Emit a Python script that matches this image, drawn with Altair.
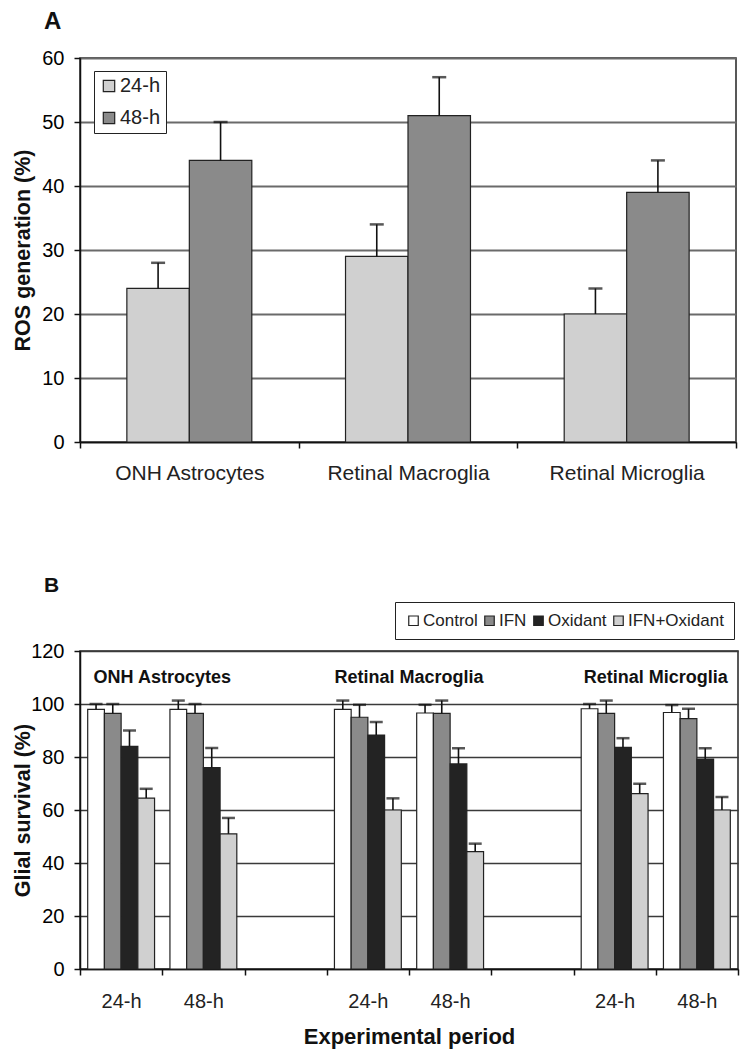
import altair as alt
import pandas as pd

FONT = "Liberation Sans"

# ---------------- Panel A data ----------------
cells = ["ONH Astrocytes", "Retinal Macroglia", "Retinal Microglia"]
periods = ["24-h", "48-h"]
ros_24 = [24, 29, 20]
ros_24_err = [4, 5, 4]
ros_48 = [44, 51, 39]
ros_48_err = [6, 6, 5]
period_colors = ["#d0d0d0", "#8a8a8a"]

# ---------------- Panel B data ----------------
treatments = ["Control", "IFN", "Oxidant", "IFN+Oxidant"]
treat_colors = ["#ffffff", "#8a8a8a", "#232323", "#d0d0d0"]
# order of groups: (cell, period)
groups = [("ONH Astrocytes", "24-h"), ("ONH Astrocytes", "48-h"),
          ("Retinal Macroglia", "24-h"), ("Retinal Macroglia", "48-h"),
          ("Retinal Microglia", "24-h"), ("Retinal Microglia", "48-h")]
control_mean = [98, 98, 98, 96.6, 98.2, 96.8]
control_err = [2, 3.3, 3.3, 3.1, 1.8, 2.8]
ifn_mean = [96.5, 96.5, 95, 96.5, 96.5, 94.5]
ifn_err = [3.5, 3.5, 4.7, 4.8, 4.8, 3.7]
oxidant_mean = [84, 76, 88.3, 77.4, 83.6, 79.2]
oxidant_err = [6, 7.4, 4.9, 5.9, 3.5, 4.1]
ifnox_mean = [64.5, 51, 60, 44.3, 66.2, 60]
ifnox_err = [3.5, 6, 4.4, 3, 3.7, 4.9]
x_keys = ["ONH Astrocytes|24-h", "ONH Astrocytes|48-h", "gap1|",
          "Retinal Macroglia|24-h", "Retinal Macroglia|48-h", "gap2|",
          "Retinal Microglia|24-h", "Retinal Microglia|48-h"]

# ---------------- build tables ----------------
rowsA = []
for i, c in enumerate(cells):
    rowsA.append({"cell": c, "period": "24-h", "mean": ros_24[i], "upper": ros_24[i] + ros_24_err[i]})
    rowsA.append({"cell": c, "period": "48-h", "mean": ros_48[i], "upper": ros_48[i] + ros_48_err[i]})
dfA = pd.DataFrame(rowsA)

rowsB = []
series = [(control_mean, control_err), (ifn_mean, ifn_err), (oxidant_mean, oxidant_err), (ifnox_mean, ifnox_err)]
for gi, (c, p) in enumerate(groups):
    for ti, t in enumerate(treatments):
        m, e = series[ti]
        rowsB.append({"key": f"{c}|{p}", "treatment": t, "mean": m[gi], "upper": m[gi] + e[gi]})
dfB = pd.DataFrame(rowsB)
dfLab = pd.DataFrame({"key": [f"{c}|48-h" for c in cells], "label": cells})

# ---------------- Panel A ----------------
xA = alt.X("cell:N", sort=cells, title=None,
           scale=alt.Scale(domain=cells, paddingInner=0, paddingOuter=0),
           axis=alt.Axis(labelAngle=0, tickBand="extent", labelFontSize=21, labelPadding=14,
                         grid=False, labelColor="#222"))
xoA = alt.XOffset("period:N", sort=periods,
                  scale=alt.Scale(domain=periods, paddingInner=0, paddingOuter=0.75))
yaxA = alt.Axis(values=[0, 10, 20, 30, 40, 50, 60], gridColor="#6a6a6a", gridWidth=2,
                titleX=-46, titleY=192, labelPadding=10)
yscA = alt.Scale(domain=[0, 60], nice=False)
YT_A = "ROS generation (%)"

barsA = alt.Chart(dfA).mark_bar(stroke="#222", strokeWidth=1.2).encode(
    x=xA, xOffset=xoA,
    y=alt.Y("mean:Q", scale=yscA, axis=yaxA, title=YT_A),
    color=alt.Color("period:N", scale=alt.Scale(domain=periods, range=period_colors),
                    legend=alt.Legend(title=None, orient="none", legendX=14, legendY=13,
                                      direction="vertical", symbolType="square", symbolSize=130,
                                      symbolStrokeColor="#222", symbolStrokeWidth=1.2,
                                      labelFontSize=20, labelColor="#222", rowPadding=12,
                                      padding=5, strokeColor="#222", fillColor="white",
                                      labelOffset=1)),
)
errA = alt.Chart(dfA).mark_rule(color="#111", strokeWidth=1.6).encode(
    x=xA, xOffset=xoA,
    y=alt.Y("mean:Q", scale=yscA, axis=yaxA, title=YT_A), y2="upper:Q")
capA = alt.Chart(dfA).mark_tick(color="#111", thickness=2.5, size=14).encode(
    x=xA, xOffset=xoA,
    y=alt.Y("upper:Q", scale=yscA, axis=yaxA, title=YT_A))

chartA = alt.layer(barsA, errA, capA).properties(
    width=656, height=384,
    title=alt.TitleParams("A", anchor="start", frame="group", dx=-36, fontSize=24,
                          font=FONT, fontWeight="bold", offset=14, color="#111"))

# ---------------- Panel B ----------------
xB = alt.X("key:N", sort=x_keys, title="Experimental period",
           scale=alt.Scale(domain=x_keys, paddingInner=0, paddingOuter=0),
           axis=alt.Axis(labelAngle=0, tickBand="extent", labelFontSize=20, labelPadding=16,
                         labelExpr="split(datum.value, '|')[1]", grid=False, labelColor="#222",
                         titleFontSize=22, titleFontWeight="bold", titlePadding=15))
xoB = alt.XOffset("treatment:N", sort=treatments,
                  scale=alt.Scale(domain=treatments, paddingInner=0, paddingOuter=0.46))
yaxB = alt.Axis(values=[0, 20, 40, 60, 80, 100, 120], gridColor="#3a3a3a", gridWidth=1.5,
                titleX=-46, titleY=159, labelPadding=10)
yscB = alt.Scale(domain=[0, 120], nice=False)
YT_B = "Glial survival (%)"

barsB = alt.Chart(dfB).mark_bar(stroke="#222", strokeWidth=1.2).encode(
    x=xB, xOffset=xoB,
    y=alt.Y("mean:Q", scale=yscB, axis=yaxB, title=YT_B),
    color=alt.Color("treatment:N", scale=alt.Scale(domain=treatments, range=treat_colors),
                    legend=alt.Legend(title=None, orient="none", legendX=315, legendY=-49,
                                      direction="horizontal", columns=4, symbolType="square",
                                      symbolSize=90, symbolStrokeColor="#222",
                                      symbolStrokeWidth=1.2, labelFontSize=17, labelColor="#222",
                                      columnPadding=3, labelOffset=1, padding=10,
                                      strokeColor="#222", fillColor="white")),
)
errB = alt.Chart(dfB).mark_rule(color="#111", strokeWidth=1.6).encode(
    x=xB, xOffset=xoB,
    y=alt.Y("mean:Q", scale=yscB, axis=yaxB, title=YT_B), y2="upper:Q")
capB = alt.Chart(dfB).mark_tick(color="#111", thickness=2.5, size=13).encode(
    x=xB, xOffset=xoB,
    y=alt.Y("upper:Q", scale=yscB, axis=yaxB, title=YT_B))
labB = alt.Chart(dfLab).mark_text(font=FONT, fontWeight="bold", fontSize=18, color="#111",
                                   baseline="middle").encode(
    x=alt.X("key:N", sort=x_keys, bandPosition=0, title="Experimental period",
            scale=alt.Scale(domain=x_keys, paddingInner=0, paddingOuter=0)),
    y=alt.datum(110),
    text="label:N")

chartB = alt.layer(barsB, errB, capB, labB).properties(
    width=658, height=318,
    title=alt.TitleParams("B", anchor="start", frame="group", dx=-36, fontSize=21,
                          font=FONT, fontWeight="bold", offset=6, color="#111"))

chart = alt.vconcat(chartA, chartB, spacing=89).resolve_scale(
    color="independent", x="independent", y="independent", xOffset="independent"
).resolve_axis(x="independent", y="independent").resolve_legend(color="independent").properties(
    padding={"left": 3, "top": 1, "right": 0, "bottom": 3}
).configure(font=FONT).configure_view(
    stroke="#222", strokeWidth=1.5
).configure_axis(
    labelFont=FONT, titleFont=FONT, labelFontSize=20, titleFontSize=21.5,
    titleFontWeight="bold", titleColor="#111",
    domainColor="#111", domainWidth=1.5, tickColor="#111", tickWidth=1.5, tickSize=6,
).configure_legend(labelFont=FONT)

chart.save("out.html", embed_options={"renderer": "svg", "actions": False})
